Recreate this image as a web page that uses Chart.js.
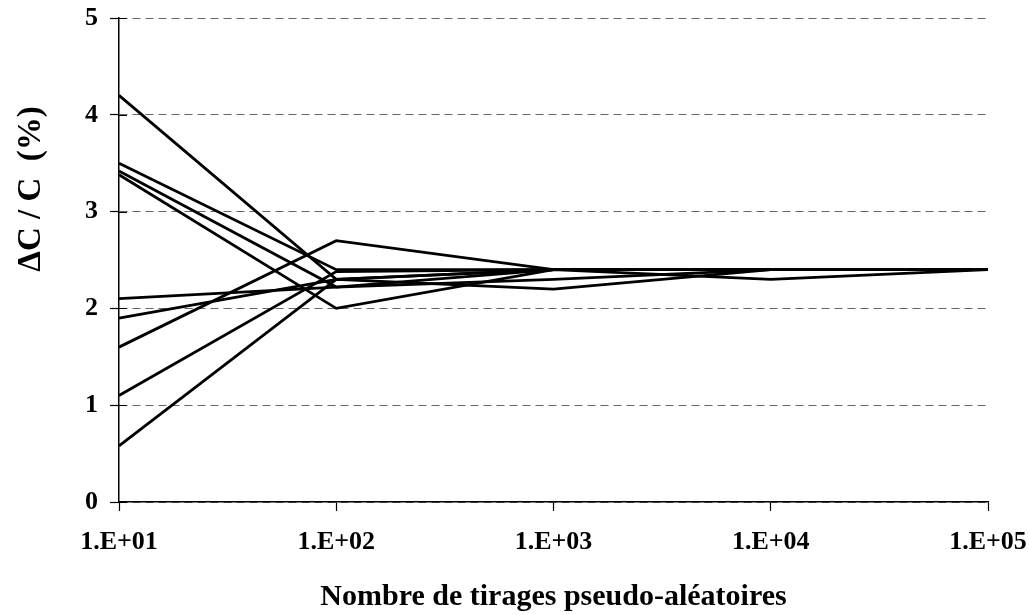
<!DOCTYPE html>
<html lang="fr">
<head>
<meta charset="utf-8">
<title>Convergence de l'incertitude</title>
<script src="https://cdn.jsdelivr.net/npm/chart.js@4/dist/chart.umd.min.js"></script>
<style>
  html, body { margin: 0; padding: 0; background: #fff; }
  #wrap { position: relative; width: 1029px; height: 615px; }
</style>
</head>
<body>
<div id="wrap"><canvas id="cvChart"></canvas></div>
<script>
  /* --- Data: relative uncertainty vs number of draws --- */
  var drawLabels = ['1.E+01', '1.E+02', '1.E+03', '1.E+04', '1.E+05'];
  var yTicks = [0, 1, 2, 3, 4, 5];

  var run1 = [4.2, 2.3, 2.4, 2.4, 2.4];
  var run2 = [3.5, 2.4, 2.4, 2.4, 2.4];
  var run3 = [3.42, 2.22, 2.4, 2.4, 2.4];
  var run4 = [3.38, 2.0, 2.4, 2.4, 2.4];
  var run5 = [2.1, 2.22, 2.3, 2.4, 2.4];
  var run6 = [1.9, 2.3, 2.2, 2.4, 2.4];
  var run7 = [1.6, 2.7, 2.4, 2.4, 2.4];
  var run8 = [1.1, 2.38, 2.4, 2.3, 2.4];
  var run9 = [0.58, 2.3, 2.4, 2.4, 2.4];

  var runs = [run1, run2, run3, run4, run5, run6, run7, run8, run9];

  var FONT = "'Liberation Serif', 'Times New Roman', serif";
  var Y_TITLE = '\u0394C / C  (%)';

  // short inner stub of each y tick, right of the axis line
  var innerTicks = {
    id: 'innerTicks',
    afterDraw: function (chart) {
      var ys = chart.scales.y;
      var ctx = chart.ctx;
      var x0 = ys.right;
      ctx.save();
      ctx.strokeStyle = '#000';
      ctx.lineWidth = 1.2;
      ctx.beginPath();
      for (var i = 0; i < yTicks.length; i++) {
        var py = Math.round(ys.getPixelForValue(yTicks[i])) + 0.5;
        ctx.moveTo(x0, py);
        ctx.lineTo(x0 + 8, py);
      }
      ctx.stroke();
      ctx.restore();
    }
  };

  // vertical axis title, sits above the middle of the axis
  var yTitle = {
    id: 'yTitle',
    afterDraw: function (chart) {
      var ctx = chart.ctx;
      ctx.save();
      ctx.translate(31, 189);
      ctx.rotate(-Math.PI / 2);
      ctx.fillStyle = '#000';
      ctx.font = 'bold 33px ' + FONT;
      ctx.textAlign = 'center';
      ctx.textBaseline = 'middle';
      ctx.fillText(Y_TITLE, 0, 0);
      ctx.restore();
    }
  };

  var datasets = runs.map(function (r, i) {
    return {
      label: 'Tirage ' + (i + 1),
      data: r,
      borderColor: '#000',
      borderWidth: 2.8,
      pointRadius: 0,
      tension: 0,
      fill: false
    };
  });

  new Chart(document.getElementById('cvChart').getContext('2d'), {
    type: 'line',
    data: { labels: drawLabels, datasets: datasets },
    plugins: [innerTicks, yTitle],
    options: {
      responsive: true,
      maintainAspectRatio: false,
      animation: false,
      layout: { padding: { top: 18, right: 41, left: 0, bottom: 0 } },
      plugins: {
        legend: { display: false },
        tooltip: { enabled: false }
      },
      scales: {
        x: {
          type: 'category',
          offset: false,
          afterFit: function (s) {
            s.height = 113;
            s.paddingLeft = 0;
            s.paddingRight = 0;
          },
          grid: {
            drawOnChartArea: false,
            drawTicks: true,
            tickLength: 9,
            tickColor: '#000',
            tickWidth: 1.2
          },
          border: { display: true, color: '#000', width: 1.5 },
          ticks: {
            color: '#000',
            padding: 16,
            maxRotation: 0,
            font: { family: FONT, size: 26, weight: 'bold' }
          },
          title: {
            display: true,
            text: 'Nombre de tirages pseudo-aléatoires',
            color: '#000',
            padding: { top: 0, bottom: 0 },
            font: { family: FONT, size: 30, weight: 'bold' }
          }
        },
        y: {
          min: 0,
          max: 5,
          afterFit: function (s) {
            s.width = 119;
            s.paddingTop = 0;
            s.paddingBottom = 0;
          },
          afterBuildTicks: function (s) {
            s.ticks = yTicks.map(function (v) { return { value: v }; });
          },
          grid: {
            color: '#666',
            lineWidth: 1,
            drawTicks: true,
            tickLength: 9,
            tickColor: '#000',
            tickWidth: 1.2,
            tickBorderDash: []
          },
          border: { display: true, color: '#000', width: 1.5, dash: [8, 5] },
          ticks: {
            color: '#000',
            padding: 12,
            font: { family: FONT, size: 26, weight: 'bold' }
          },
          title: { display: false }
        }
      }
    }
  });
</script>
</body>
</html>
